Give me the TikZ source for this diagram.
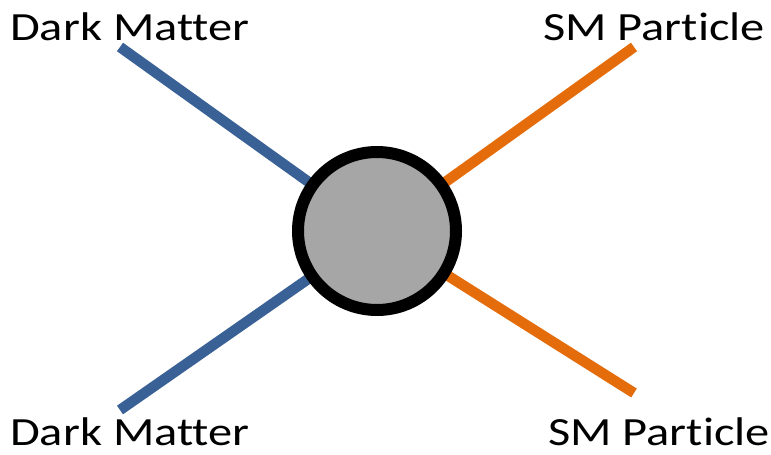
\documentclass[tikz,border=0pt]{standalone}
\usepackage{fontspec}
\setmainfont{Carlito}[FakeStretch=1.21, Ligatures=NoCommon]
\usetikzlibrary{positioning}
\definecolor{dmblue}{HTML}{3A6196}
\definecolor{smorange}{HTML}{E46C0A}
\definecolor{blobgray}{HTML}{A6A6A6}
\tikzset{
	leg/.style={line width=10.5pt},
	lbl/.style={inner sep=0pt, anchor=base west, font=\fontsize{40}{48}\selectfont},
	blob/.style={circle, draw=black, line width=12pt, fill=blobgray, minimum size=158pt, inner sep=0pt}
}

\begin{document}
\begin{tikzpicture}[x=1pt, y=-1pt]
		%%%%% START %%%%%
		\useasboundingbox (0, 0) rectangle (771, 455);
		
		\coordinate (vtx) at (377, 231);
		\coordinate (dmin) at (120, 47);
		\coordinate (dmout) at (120, 410);
		\coordinate (smin) at (634, 47);
		\coordinate (smout) at (634, 393);
		
		\draw[leg, color=dmblue] (dmin) -- (vtx);
		\draw[leg, color=dmblue] (dmout) -- (vtx);
		\draw[leg, color=smorange] (smin) -- (vtx);
		\draw[leg, color=smorange] (smout) -- (vtx);
		
		\node[blob] (core) at (vtx) {};
		
		\node[lbl] (dmtop) at (10, 40) {Dark Matter};
		\node[lbl] (dmbot) at (10, 445) {Dark Matter};
		\node[lbl] (smtop) at (543, 40) {SM Particle};
		\node[lbl] (smbot) at (548, 445) {SM Particle};
		
		%%%%% END %%%%%
	\end{tikzpicture}
\end{document}
